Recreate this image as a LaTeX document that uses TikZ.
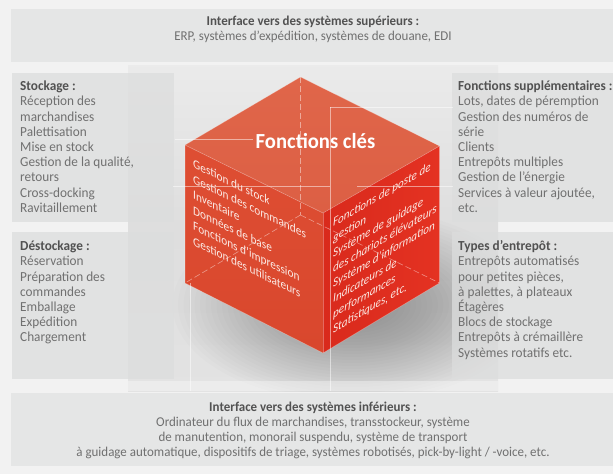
\documentclass[tikz,border=0pt]{standalone}
\usepackage{fontspec}
\setmainfont{Carlito}[FakeStretch=0.96]
\newfontfamily\cubefont{Carlito}[FakeStretch=0.9]
\usetikzlibrary{calc}
\definecolor{bgc}{HTML}{F2F2F2}
\definecolor{bandc}{HTML}{E5E6E6}
\definecolor{panelc}{HTML}{DCDDDD}
\definecolor{headc}{HTML}{525252}
\definecolor{bodyc}{HTML}{707070}
\definecolor{topf}{HTML}{E0664A}
\definecolor{topf2}{HTML}{DC5F44}
\definecolor{leftf}{HTML}{DE4E33}
\definecolor{leftf2}{HTML}{D9472D}
\definecolor{rightf}{HTML}{E43222}
\definecolor{rightf2}{HTML}{D92A1C}
\definecolor{facetxt}{HTML}{FBE9E4}
\newcommand\LinesL[1]{\vtop{\halign{##\hfil\cr#1\crcr}}}
\newcommand\LinesC[1]{\vtop{\halign{\hfil##\hfil\cr#1\crcr}}}
\tikzset{
  txt/.style={inner sep=0pt, anchor=base west, text=bodyc,
    font=\fontsize{13.8}{15.2}\selectfont},
  ctxt/.style={inner sep=0pt, anchor=base, text=bodyc,
    font=\fontsize{13.5}{15.2}\selectfont},
  faint/.style={draw=white, opacity=0.5, line width=0.6pt},
  hidden/.style={draw=white, opacity=0.45, line width=0.6pt, dash pattern=on 6pt off 3pt},
  facetext/.style={inner sep=0pt, anchor=base west, text=facetxt,
    font=\cubefont\fontsize{12.6}{15.5}\selectfont},
  edgehl/.style={draw=white, opacity=0.3, line width=0.6pt}
}
\begin{document}
\begin{tikzpicture}[x=1pt,y=-1pt]
\useasboundingbox (0,0) rectangle (613,474);
\fill[bgc] (0,0) rectangle (613,474);

% middle column
\shade[top color=black!8, bottom color=black!11, middle color=black!13] (128,65) rectangle (498,391);
\begin{scope}
\clip (128,65) rectangle (498,391);
\foreach \i in {1,...,30}{
  \fill[black, opacity=0.011] (352,305) ellipse ({185-5.5*\i} and {100-3*\i});
}
\fill[white, opacity=0.35] (128,381) rectangle (498,391);
\end{scope}

% bands
\fill[bandc] (11,9) rectangle (613,62);
\fill[bandc] (11,393) rectangle (613,466);

% side panels
\fill[panelc, opacity=0.75] (12,73) rectangle (174,222);
\fill[panelc, opacity=0.75] (12,232) rectangle (174,379);
\fill[panelc, opacity=0.75] (452,73) rectangle (613,222);
\fill[panelc, opacity=0.75] (452,232) rectangle (613,379);

% cube
\coordinate (T) at (300.5,77);
\coordinate (L) at (185,145);
\coordinate (R) at (439.5,146);
\coordinate (F) at (323,213);
\coordinate (LB) at (185,283);
\coordinate (RB) at (439.5,283);
\coordinate (FB) at (323,353);
\coordinate (H) at (300.5,215);

\shade[top color=topf, bottom color=topf2] (T) -- (R) -- (F) -- (L) -- cycle;
\shade[top color=leftf, bottom color=leftf2] (L) -- (F) -- (FB) -- (LB) -- cycle;
\shade[left color=rightf2, right color=rightf] (F) -- (R) -- (RB) -- (FB) -- cycle;

% faint frame lines
\draw[faint] (173,186) -- (330,186);
\draw[faint] (175,139) -- (253,139);
\draw[faint] (330,107) -- (453,107);
\draw[faint] (330,107) -- (330,391);
\draw[faint] (357,186) -- (453,186);
\draw[faint] (190,283) -- (190,391);

% hidden edges
\draw[hidden] (T) -- (H);
\draw[hidden] (H) -- (LB);
\draw[hidden] (H) -- (RB);
% visible edges highlight
\draw[edgehl] (L) -- (F) -- (R);
\draw[edgehl] (F) -- (FB);
\draw[edgehl] (T) -- (R) -- (RB) -- (FB) -- (LB) -- (L) -- cycle;

% title
\node[inner sep=0pt, anchor=base, text=white, font=\fontsize{21.5}{24}\selectfont\bfseries] (title) at (315.5,148.3) {Fonctions clés};

% left face text
\begin{scope}[shift={(193,167.5)}]
\node[facetext, yslant=-0.49] (lf) at (0,0) {\LinesL{Gestion du stock\cr Gestion des commandes\cr Inventaire\cr Données de base\cr Fonctions d’impression\cr Gestion des utilisateurs}};
\end{scope}

% right face text
\begin{scope}[shift={(333,227)}]
\node[facetext, yslant=0.58, font=\cubefont\fontsize{12.4}{15.2}\selectfont\itshape] (rf) at (0,0) {\LinesL{Fonctions de poste de\cr gestion\cr Système de guidage\cr des chariots élévateurs\cr Système d’information\cr Indicateurs de\cr performances\cr Statistiques, etc.}};
\end{scope}

% band texts
\node[ctxt] (topT) at (313,25) {\LinesC{{\color{headc}\bfseries Interface vers des systèmes supérieurs :}\cr ERP, systèmes d’expédition, systèmes de douane, EDI}};
\node[ctxt] (botT) at (313,411) {\LinesC{{\color{headc}\bfseries Interface vers des systèmes inférieurs :}\cr Ordinateur du flux de marchandises, transstockeur, système\cr de manutention, monorail suspendu, système de transport\cr à guidage automatique, dispositifs de triage, systèmes robotisés, pick-by-light / -voice, etc.}};

% panel texts
\node[txt] (stock) at (20,90.7) {\LinesL{{\color{headc}\bfseries Stockage :}\cr Réception des\cr marchandises\cr Palettisation\cr Mise en stock\cr Gestion de la qualité,\cr retours\cr Cross-docking\cr Ravitaillement}};
\node[txt] (destock) at (20,250.7) {\LinesL{{\color{headc}\bfseries Déstockage :}\cr Réservation\cr Préparation des\cr commandes\cr Emballage\cr Expédition\cr Chargement}};
\node[txt] (supp) at (458,90.7) {\LinesL{{\color{headc}\bfseries Fonctions supplémentaires :}\cr Lots, dates de péremption\cr Gestion des numéros de\cr série\cr Clients\cr Entrepôts multiples\cr Gestion de l’énergie\cr Services à valeur ajoutée,\cr etc.}};
\node[txt] (types) at (458,250.7) {\LinesL{{\color{headc}\bfseries Types d’entrepôt :}\cr Entrepôts automatisés\cr pour petites pièces,\cr à palettes, à plateaux\cr Étagères\cr Blocs de stockage\cr Entrepôts à crémaillère\cr Systèmes rotatifs etc.}};
\end{tikzpicture}
\end{document}
